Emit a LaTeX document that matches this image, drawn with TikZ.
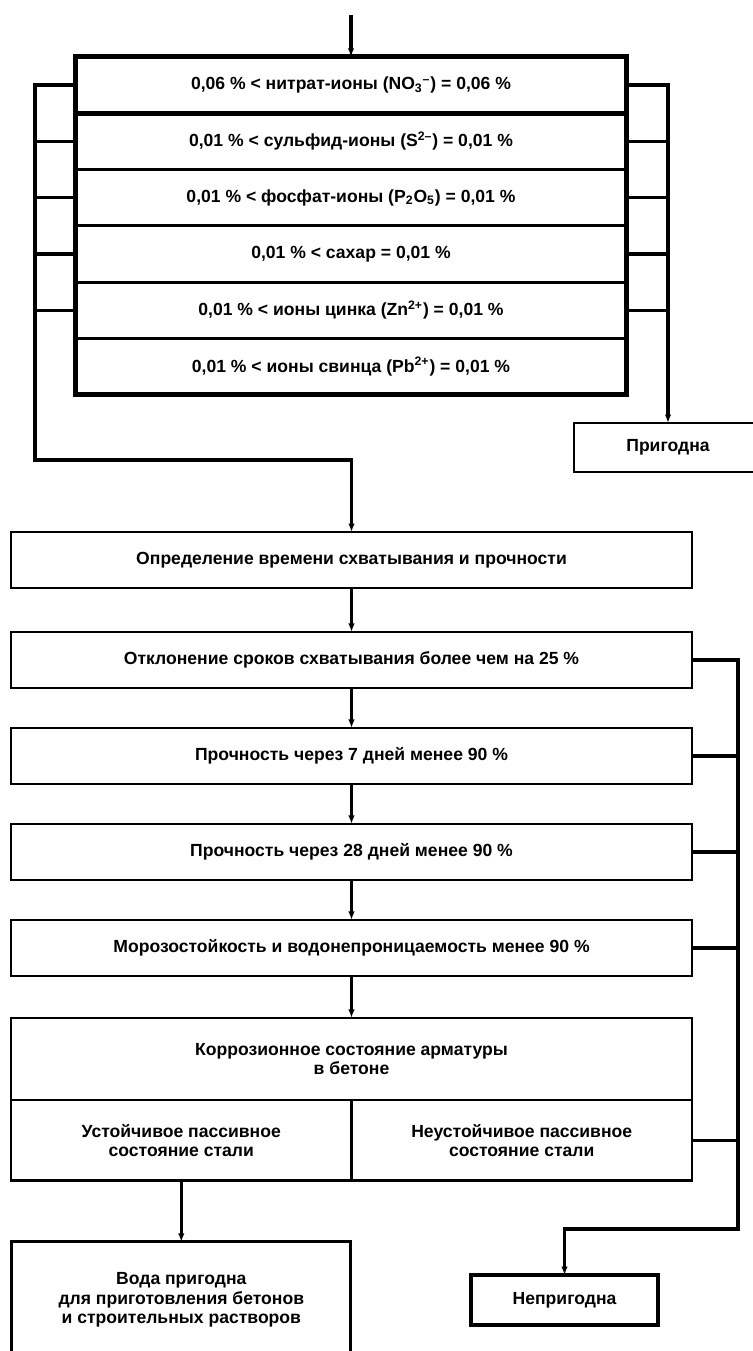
\documentclass[tikz,border=0pt]{standalone}
\usepackage{fontspec}
\setmainfont{Liberation Sans}
\usepackage{tikz}
\usetikzlibrary{arrows.meta, positioning, calc}

\begin{document}
\begin{tikzpicture}[
        x=0.02cm, y=-0.02cm,
        box/.style={rectangle, draw, line width=1.6pt, outer sep=0pt, minimum width=13.62cm, minimum height=1.12cm, text centered, font=\bfseries\fontsize{10}{11.2}\selectfont, align=center, inner sep=2pt},
        row/.style={box, minimum width=11.04cm, minimum height=1.1267cm}, % table rows
        cell/.style={box, minimum width=6.81cm, minimum height=1.62cm},
        line/.style={line width=1.8pt},
        thickline/.style={line width=2.8pt},
        arrow/.style={line width=1.8pt, -{Latex[length=1.7mm, width=1.3mm]}},
        node distance=0.8cm
    ]
    \useasboundingbox (0,0) rectangle (753,1351);

    % Nodes - table of limits
    \node[row] (r1) at (351,85) {0,06 \% < нитрат-ионы (NO\textsubscript{3}\textsuperscript{--}) = 0,06 \%};
    \node[row, below=0pt of r1] (r2) {0,01 \% < сульфид-ионы (S\textsuperscript{2--}) = 0,01 \%};
    \node[row, below=0pt of r2] (r3) {0,01 \% < фосфат-ионы (P\textsubscript{2}O\textsubscript{5}) = 0,01 \%};
    \node[row, below=0pt of r3] (r4) {0,01 \% < сахар = 0,01 \%};
    \node[row, below=0pt of r4] (r5) {0,01 \% < ионы цинка (Zn\textsuperscript{2+}) = 0,01 \%};
    \node[row, below=0pt of r5] (r6) {0,01 \% < ионы свинца (Pb\textsuperscript{2+}) = 0,01 \%};
    \draw[thickline] (r1.north west) rectangle (r6.south east);
    \draw[thickline] (r1.south west) -- (r1.south east);

    \node[box, minimum width=3.76cm, minimum height=0.98cm] (fit) at (668,447.5) {Пригодна};

    % Nodes - tests
    \node[box] (setting) at (351.5,560) {Определение времени схватывания и прочности};
    \node[box, below=0.88cm of setting] (deviation) {Отклонение сроков схватывания более чем на 25 \%};
    \node[box, below=of deviation] (days7) {Прочность через 7 дней менее 90 \%};
    \node[box, below=of days7] (days28) {Прочность через 28 дней менее 90 \%};
    \node[box, below=of days28] (frost) {Морозостойкость и водонепроницаемость менее 90 \%};

    % Corrosion box, split in two cells
    \node[box, below=0.84cm of frost, minimum height=1.64cm] (corr) {Коррозионное состояние арматуры\\ в бетоне};
    \node[cell, anchor=north west] (stable) at (corr.south west) {Устойчивое пассивное\\ состояние стали};
    \node[cell, anchor=north east] (unstable) at (corr.south east) {Неустойчивое пассивное\\ состояние стали};

    % Results
    \node[box, below=1.22cm of stable, minimum width=6.78cm, minimum height=2.32cm] (good) {Вода пригодна\\ для приготовления бетонов\\ и строительных растворов};
    \node[box, line width=2.8pt, minimum width=3.74cm, minimum height=1cm] (unfit) at (564.5,1300) {Непригодна};

    % Connections - table
    \coordinate (entry) at (351,15);
    \coordinate (lbend) at (35,460);
    \draw[arrow] (entry) -- (r1.north);
    \draw[arrow] (r1.west) -| (lbend) -| (setting.north); % over the limit
    \draw[arrow] (r1.east) -| (fit.north); % within the limit
    \foreach \r in {2,...,5} {
        \draw[line] (r\r.west) -- (r\r.west -| lbend);
        \draw[line] (r\r.east) -- (r\r.east -| fit.north);
    }

    % Connections - tests
    \coordinate (rbend) at (738,1229);
    \draw[arrow] (setting) -- (deviation);
    \draw[arrow] (deviation) -- (days7);
    \draw[arrow] (days7) -- (days28);
    \draw[arrow] (days28) -- (frost);
    \draw[arrow] (frost) -- (corr);
    \draw[arrow] (stable) -- (good);
    \draw[arrow] (deviation.east) -| (rbend) -| (unfit.north);
    \foreach \n in {days7, days28, frost, unstable}
        \draw[line] (\n.east) -- (\n.east -| rbend);

\end{tikzpicture}
\end{document}
